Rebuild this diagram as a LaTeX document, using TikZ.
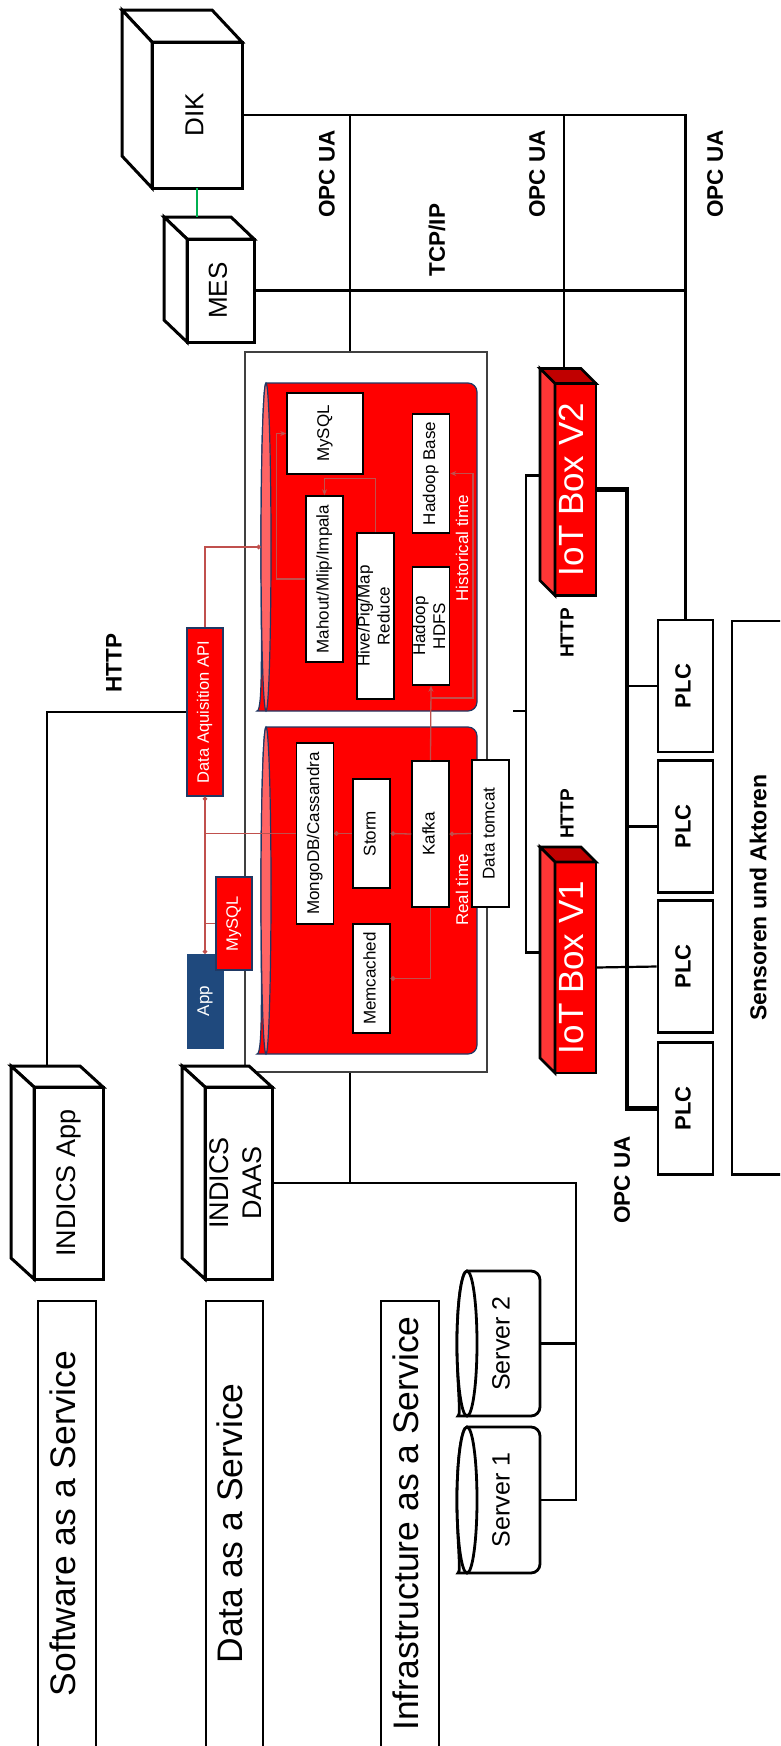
\documentclass[tikz,border=0pt]{standalone}
\usepackage{graphicx}
\usepackage{fontspec}
\setmainfont{Liberation Sans}
\usetikzlibrary{arrows.meta,positioning,calc}
\definecolor{CoreRed}{HTML}{FF0000}
\definecolor{SideRed}{HTML}{FF3636}
\definecolor{TopRed}{HTML}{C00000}
\definecolor{EndRed}{HTML}{FF6464}
\definecolor{LinkRed}{HTML}{C0504D}
\definecolor{EdgeBlue}{HTML}{1F3864}
\definecolor{AppBlue}{HTML}{1F497D}
\definecolor{MesGreen}{HTML}{00B050}
\definecolor{FrameGray}{HTML}{404040}
\newcommand{\vlines}[1]{\makebox[0pt]{\rotatebox{90}{\begin{tabular}{@{}c@{}}#1\end{tabular}}}}
\newcommand{\boxback}[6]{%
 \filldraw[#4,fill=#5] (#1.north west) -- ++(#2,#3) -- ($(#1.north east)+(#2,#3)$) -- (#1.north east) -- cycle;
 \filldraw[#4,fill=#6] (#1.north west) -- ++(#2,#3) -- ($(#1.south west)+(#2,#3)$) -- (#1.south west) -- cycle;}
\newcommand{\drum}[7]{%
 \path[#6] ({#1+#5},#2) [rounded corners=9pt] -- (#3,#2) -- (#3,#4) -- ({#1+#5},#4) [sharp corners]
  arc[start angle=90,end angle=270,x radius=#5,y radius={(#4-#2)/2}] -- cycle;
 \path[#6,fill=#7] ({#1+#5},{(#2+#4)/2}) ellipse[x radius=#5,y radius={(#4-#2)/2}];}
\tikzset{>=Stealth,
 wire/.style={line width=2.2pt},
 bus/.style={line width=4.2pt},
 link/.style={draw=LinkRed,line width=1.3pt,>={Stealth[length=6pt,width=5pt]}},
 host/.style={draw,fill=white,line width=3pt,inner sep=0pt,outer sep=0pt,font=\fontsize{26}{32}\selectfont},
 tool/.style={draw,fill=white,line width=1.5pt,inner sep=0pt,minimum width=37,font=\fontsize{17}{20}\selectfont},
 redbox/.style={draw=EdgeBlue,fill=CoreRed,line width=1.2pt,text=white,inner sep=0pt,minimum width=36,
  font=\fontsize{16.5}{19}\selectfont},
 iot/.style={draw,fill=CoreRed,line width=2.8pt,text=white,inner sep=0pt,outer sep=0pt,minimum width=41,
  minimum height=212,font=\fontsize{35}{40}\selectfont},
 plc/.style={draw,fill=white,line width=2.6pt,inner sep=0pt,minimum width=55,minimum height=132,
  font=\fontsize{22}{26}\selectfont\bfseries},
 layer/.style={inner sep=0pt,minimum width=58,minimum height=445,font=\fontsize{35.5}{40}\selectfont},
 srv/.style={inner sep=0pt,minimum width=73,minimum height=145,font=\fontsize{25}{30}\selectfont},
 tag/.style={rotate=90,font=\fontsize{22.5}{26}\selectfont\bfseries},
 note/.style={rotate=90,text=white,font=\fontsize{17}{20}\selectfont}}

\begin{document}
\begin{tikzpicture}[x=1pt,y=-1pt]
\useasboundingbox (0,0) rectangle (780,1746);
\clip (0,0) rectangle (780,1746);

% data centre and its two stores
\node[draw=FrameGray,line width=1.3pt,minimum width=242,minimum height=720] (frame) at (366,712) {};
\drum{261}{383}{477}{711}{5}{draw=EdgeBlue,fill=CoreRed,line width=1.2pt}{EndRed}
\drum{261}{727}{477}{1054}{5}{draw=EdgeBlue,fill=CoreRed,line width=1.2pt}{EndRed}
\node[minimum width=216,minimum height=328] (hist) at (369,547) {};
\node[minimum width=216,minimum height=327] (real) at (369,890.5) {};

\node[tool,minimum width=76,minimum height=81] (hsql) at (325,433.5) {\vlines{MySQL}};
\node[tool,minimum height=166] (mahout) at (324.5,579) {\vlines{Mahout/Mlip/Impala}};
\node[tool,minimum height=166] (hive) at (375.5,616) {\vlines{Hive/Pig/Map\\Reduce}};
\node[tool,minimum height=119] (hbase) at (431,473.5) {\vlines{Hadoop Base}};
\node[tool,minimum height=118] (hdfs) at (431,626) {\vlines{Hadoop\\HDFS}};
\node[note] (histlbl) at (462,548) {Historical time};

\node[tool,minimum height=181] (mongo) at (315,833.5) {\vlines{MongoDB/Cassandra}};
\node[tool,minimum height=109] (storm) at (371.5,833.5) {\vlines{Storm}};
\node[tool,minimum height=146] (kafka) at (430.5,834) {\vlines{Kafka}};
\node[tool,minimum height=147] (tomcat) at (490.5,833.5) {\vlines{Data tomcat}};
\node[tool,minimum height=109] (memc) at (371.5,978.5) {\vlines{Memcached}};
\node[note] (reallbl) at (462,890) {Real time};

\node[redbox,minimum height=168] (api) at (205,712) {\vlines{Data Aquisition API}};
\node[draw=AppBlue,fill=AppBlue,text=white,inner sep=0pt,minimum width=36,minimum height=94,
 font=\fontsize{17}{20}\selectfont] (app) at (205,1001) {\vlines{App}};
\node[redbox,minimum height=93] (rsql) at (234,923.5) {\vlines{MySQL}};

% data flow
\coordinate (hsplit) at (431,698);
\draw[link,->] (mahout.west) -- ++(-29,0) |- (hsql.west);
\draw[link,->] (hive.north) |- ($(mahout.north)+(0,-17)$) -- (mahout.north);
\draw[link,->] (kafka.north) -- (hdfs.south);
\draw[link,->] (hsplit) -- ++(42,0) |- (hbase.east);
\draw[link,-{Circle[length=4.5pt]}] (api.north) |- (hist.west);
\draw[link,{Circle[length=4.5pt]}-{Circle[length=4.5pt]}] (api.south) -- (app.north);
\draw[link] (api.south |- mongo.west) -- (mongo.west);
\draw[link] (api.south |- rsql.west) -- (rsql.west);
\draw[link,{Circle[length=4.5pt]}-] (mongo.east) -- (storm.west);
\draw[link,{Circle[length=4.5pt]}-] (storm.east) -- (kafka.west);
\draw[link,{Circle[length=4.5pt]}-] (kafka.east) -- (tomcat.west);
\draw[link,{Circle[length=4.5pt]}-] (memc.east) -| (kafka.south);

% hosts
\node[host,minimum width=90,minimum height=146] (dik) at (197,115) {\vlines{DIK}};
\boxback{dik}{-30}{-32}{line width=3pt}{white}{white}
\node[host,minimum width=67,minimum height=103] (mes) at (220.5,290.5) {\vlines{MES}};
\boxback{mes}{-23}{-22}{line width=3pt}{white}{white}
\node[host,minimum width=69,minimum height=192,font=\fontsize{27}{33}\selectfont] (iapp) at (68.5,1183) {\vlines{INDICS App}};
\boxback{iapp}{-23}{-21}{line width=3pt}{white}{white}
\node[host,minimum width=67,minimum height=192,font=\fontsize{27}{33}\selectfont] (daas) at (238.5,1183) {\vlines{INDICS\\DAAS}};
\boxback{daas}{-23}{-21}{line width=3pt}{white}{white}

\node[iot] (iot2) at (575.5,489.5) {\vlines{IoT Box V2}};
\boxback{iot2}{-15}{-15}{line width=2.8pt}{TopRed}{SideRed}
\node[iot,minimum height=211] (iot1) at (575.5,967.5) {\vlines{IoT Box V1}};
\boxback{iot1}{-15}{-15}{line width=2.8pt}{TopRed}{SideRed}

\node[plc] (plcA) at (685.5,686) {\vlines{PLC}};
\node[plc] (plcB) at (685.5,826.5) {\vlines{PLC}};
\node[plc] (plcC) at (685.5,966.5) {\vlines{PLC}};
\node[plc] (plcD) at (685.5,1108.5) {\vlines{PLC}};
\node[inner sep=0pt,minimum width=58,minimum height=553,font=\fontsize{23}{27}\selectfont\bfseries] (sens) at (761,897.5) {\vlines{Sensoren und Aktoren}};
\draw[line width=2.6pt] (sens.north east) -- (sens.north west) -- (sens.south west) -- (sens.south east);

\drum{457}{1271}{540}{1416}{10}{draw=black,fill=white,line width=2.8pt}{white}
\node[srv] (srv2) at (503.5,1343.5) {\vlines{Server 2}};
\drum{457}{1427}{540}{1573}{10}{draw=black,fill=white,line width=2.8pt}{white}
\node[srv] (srv1) at (503.5,1500) {\vlines{Server 1}};

\node[layer] (saas) at (67,1523.5) {\vlines{Software as a Service}};
\node[layer,minimum width=57] (daasl) at (234.5,1523.5) {\vlines{Data as a Service}};
\node[layer] (iaas) at (410,1523.5) {\vlines{Infrastructure as a Service}};
\foreach \l in {saas,daasl,iaas}
 \draw[line width=1.8pt] (\l.south west) |- (\l.north east) -- (\l.south east);

% protocol labels
\node[tag] (opc1) at (327,174) {OPC UA};
\node[tag] (opc2) at (537,174) {OPC UA};
\node[tag] (opc3) at (715,174) {OPC UA};
\node[tag] (tcp) at (437,240) {TCP/IP};
\node[tag] (httpapp) at (114,663) {HTTP};
\node[tag,font=\fontsize{19}{22}\selectfont\bfseries] (http2) at (567,633) {HTTP};
\node[tag,font=\fontsize{19}{22}\selectfont\bfseries] (http1) at (567,814) {HTTP};
\node[tag] (opc4) at (622,1180) {OPC UA};

% network
\coordinate (tapA) at (350,115);
\coordinate (tapB) at (564,115);
\coordinate (srvbus) at (576,1183);
\coordinate (stub) at (526,711);
\draw[wire] (dik.east) -| (plcA.north);
\draw[wire] (mes.east) -- (mes.east -| plcA.north);
\draw[wire] (tapA) -- (tapA |- frame.north);
\draw[wire] (tapB) -- ($(tapB |- iot2.north)+(0,-15)$);
\draw[MesGreen,line width=1.2pt] (dik.south) -- ($(dik.south |- mes.north)+(0,-22)$);
\draw[wire] ($(iapp.north)+(-21.5,-21)$) |- (api.west);
\draw[wire] (tapA |- frame.south) -- (tapA |- daas.east);
\draw[wire] (daas.east) -- (srvbus) |- (srv1.east);
\draw[wire] (srv2.east) -- (srv2.east -| srvbus);
\draw[wire] ($(iot2.west)+(-15,-14)$) -- ++(-14,0) |- ($(iot1.west)+(-15,-15)$);
\draw[wire,line width=2.8pt] (stub) -- ++(-13,0);
\draw[bus] (iot2.east) -| ($(plcD.west)+(-30,0)$) -- (plcD.west);
\draw[wire] (plcA.west) -- ++(-30,0);
\draw[wire] (plcB.west) -- ++(-30,0);
\draw[wire] (iot1.east) -- (plcC.west);
\end{tikzpicture}
\end{document}
